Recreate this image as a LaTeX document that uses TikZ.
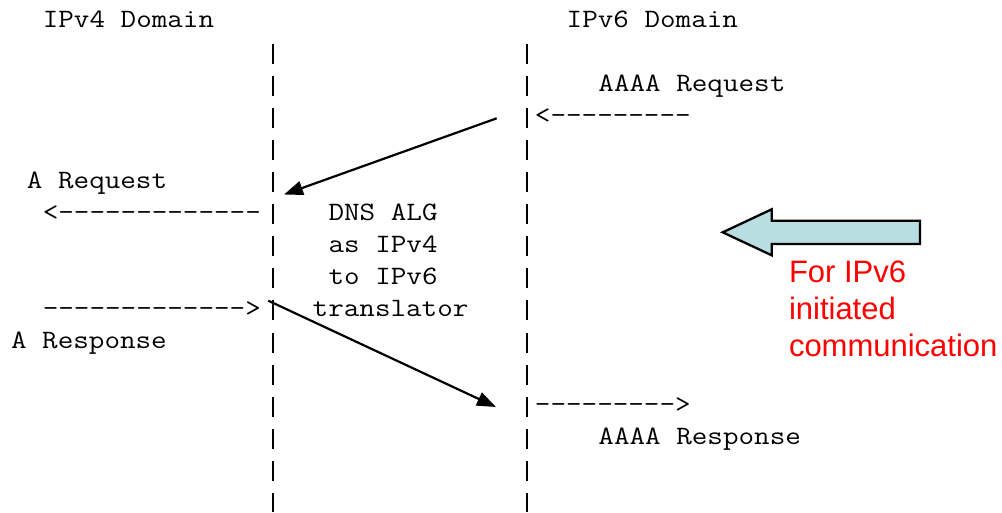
\documentclass[tikz,border=0pt]{standalone}
\usepackage{fontspec}
\newfontfamily\arialfont{Liberation Sans}
\usetikzlibrary{arrows.meta}

% ASCII art text: typewriter face widened to a Courier-like cell
\newcommand\mono[1]{\scalebox{1.141}[1]{\ttfamily\fontsize{26.5}{32}\selectfont #1}}
% character cell (column, row) -> baseline-left point
\newcommand\cell[2]{({11.1+15.875*#1},{27.5+32.1*#2})}

\definecolor{arrowfill}{RGB}{185,222,226}
\definecolor{notered}{RGB}{255,0,0}

\tikzset{
  asc/.style={anchor=base west, inner sep=0pt, outer sep=0pt},
  bar/.style={line width=2.4pt, dash pattern=on 20pt off 12.1pt},
  flow/.style={line width=2.2pt, -{Triangle[length=19pt,width=14pt]}},
  blockarrow/.style={draw=black, line width=2.3pt, fill=arrowfill, line join=miter},
  note/.style={anchor=base west, inner sep=0pt, outer sep=0pt, text=notered,
               font=\arialfont\fontsize{31}{37}\selectfont},
}

\begin{document}
\begin{tikzpicture}[x=1pt, y=-1pt]
  \useasboundingbox (0,0) rectangle (1002,512);

  % domain headings
  \node[asc] (hv4) at \cell{2}{0} {\mono{IPv4 Domain}};
  \node[asc] (hv6) at \cell{35}{0} {\mono{IPv6 Domain}};

  % the two domain boundaries
  \coordinate (l4top) at (273,43.6);
  \coordinate (l4bot) at (273,512);
  \coordinate (l6top) at (527,43.6);
  \coordinate (l6bot) at (527,512);
  \draw[bar] (l4top) -- (l4bot);
  \draw[bar] (l6top) -- (l6bot);

  % IPv6 side messages
  \node[asc] (aaaareq)  at \cell{37}{2}  {\mono{AAAA Request}};
  \node[asc] (inreq)    at \cell{33}{3}  {\mono{<---------}};
  \node[asc] (outresp)  at \cell{33}{12} {\mono{--------->}};
  \node[asc] (aaaaresp) at \cell{37}{13} {\mono{AAAA Response}};

  % IPv4 side messages
  \node[asc] (areq)    at \cell{1}{5}  {\mono{A Request}};
  \node[asc] (outreq)  at \cell{2}{6}  {\mono{<-------------}};
  \node[asc] (inresp)  at \cell{2}{9}  {\mono{------------->}};
  \node[asc] (aresp)   at \cell{0}{10} {\mono{A Response}};

  % translator label between the boundaries
  \node[asc] (alg1) at \cell{20}{6} {\mono{DNS ALG}};
  \node[asc] (alg2) at \cell{20}{7} {\mono{as IPv4}};
  \node[asc] (alg3) at \cell{20}{8} {\mono{to IPv6}};
  \node[asc] (alg4) at \cell{19}{9} {\mono{translator}};

  % request and response paths through the ALG
  \coordinate (reqfrom) at (496.7,118.3);
  \coordinate (reqto)   at (284,194.5);
  \coordinate (respfrom) at (268.3,300.7);
  \coordinate (respto)   at (496,407);
  \draw[flow] (reqfrom) -- (reqto);
  \draw[flow] (respfrom) -- (respto);

  % direction of the initiating side
  \draw[blockarrow] (920,220.7) -- (771.7,220.7) -- (771.7,209.3) -- (722.7,232.3)
    -- (771.7,255.3) -- (771.7,244) -- (920,244) -- cycle;

  \node[note] (n1) at (789,282) {For IPv6};
  \node[note] (n2) at (789,319) {initiated};
  \node[note] (n3) at (789,356) {communication};
\end{tikzpicture}
\end{document}
